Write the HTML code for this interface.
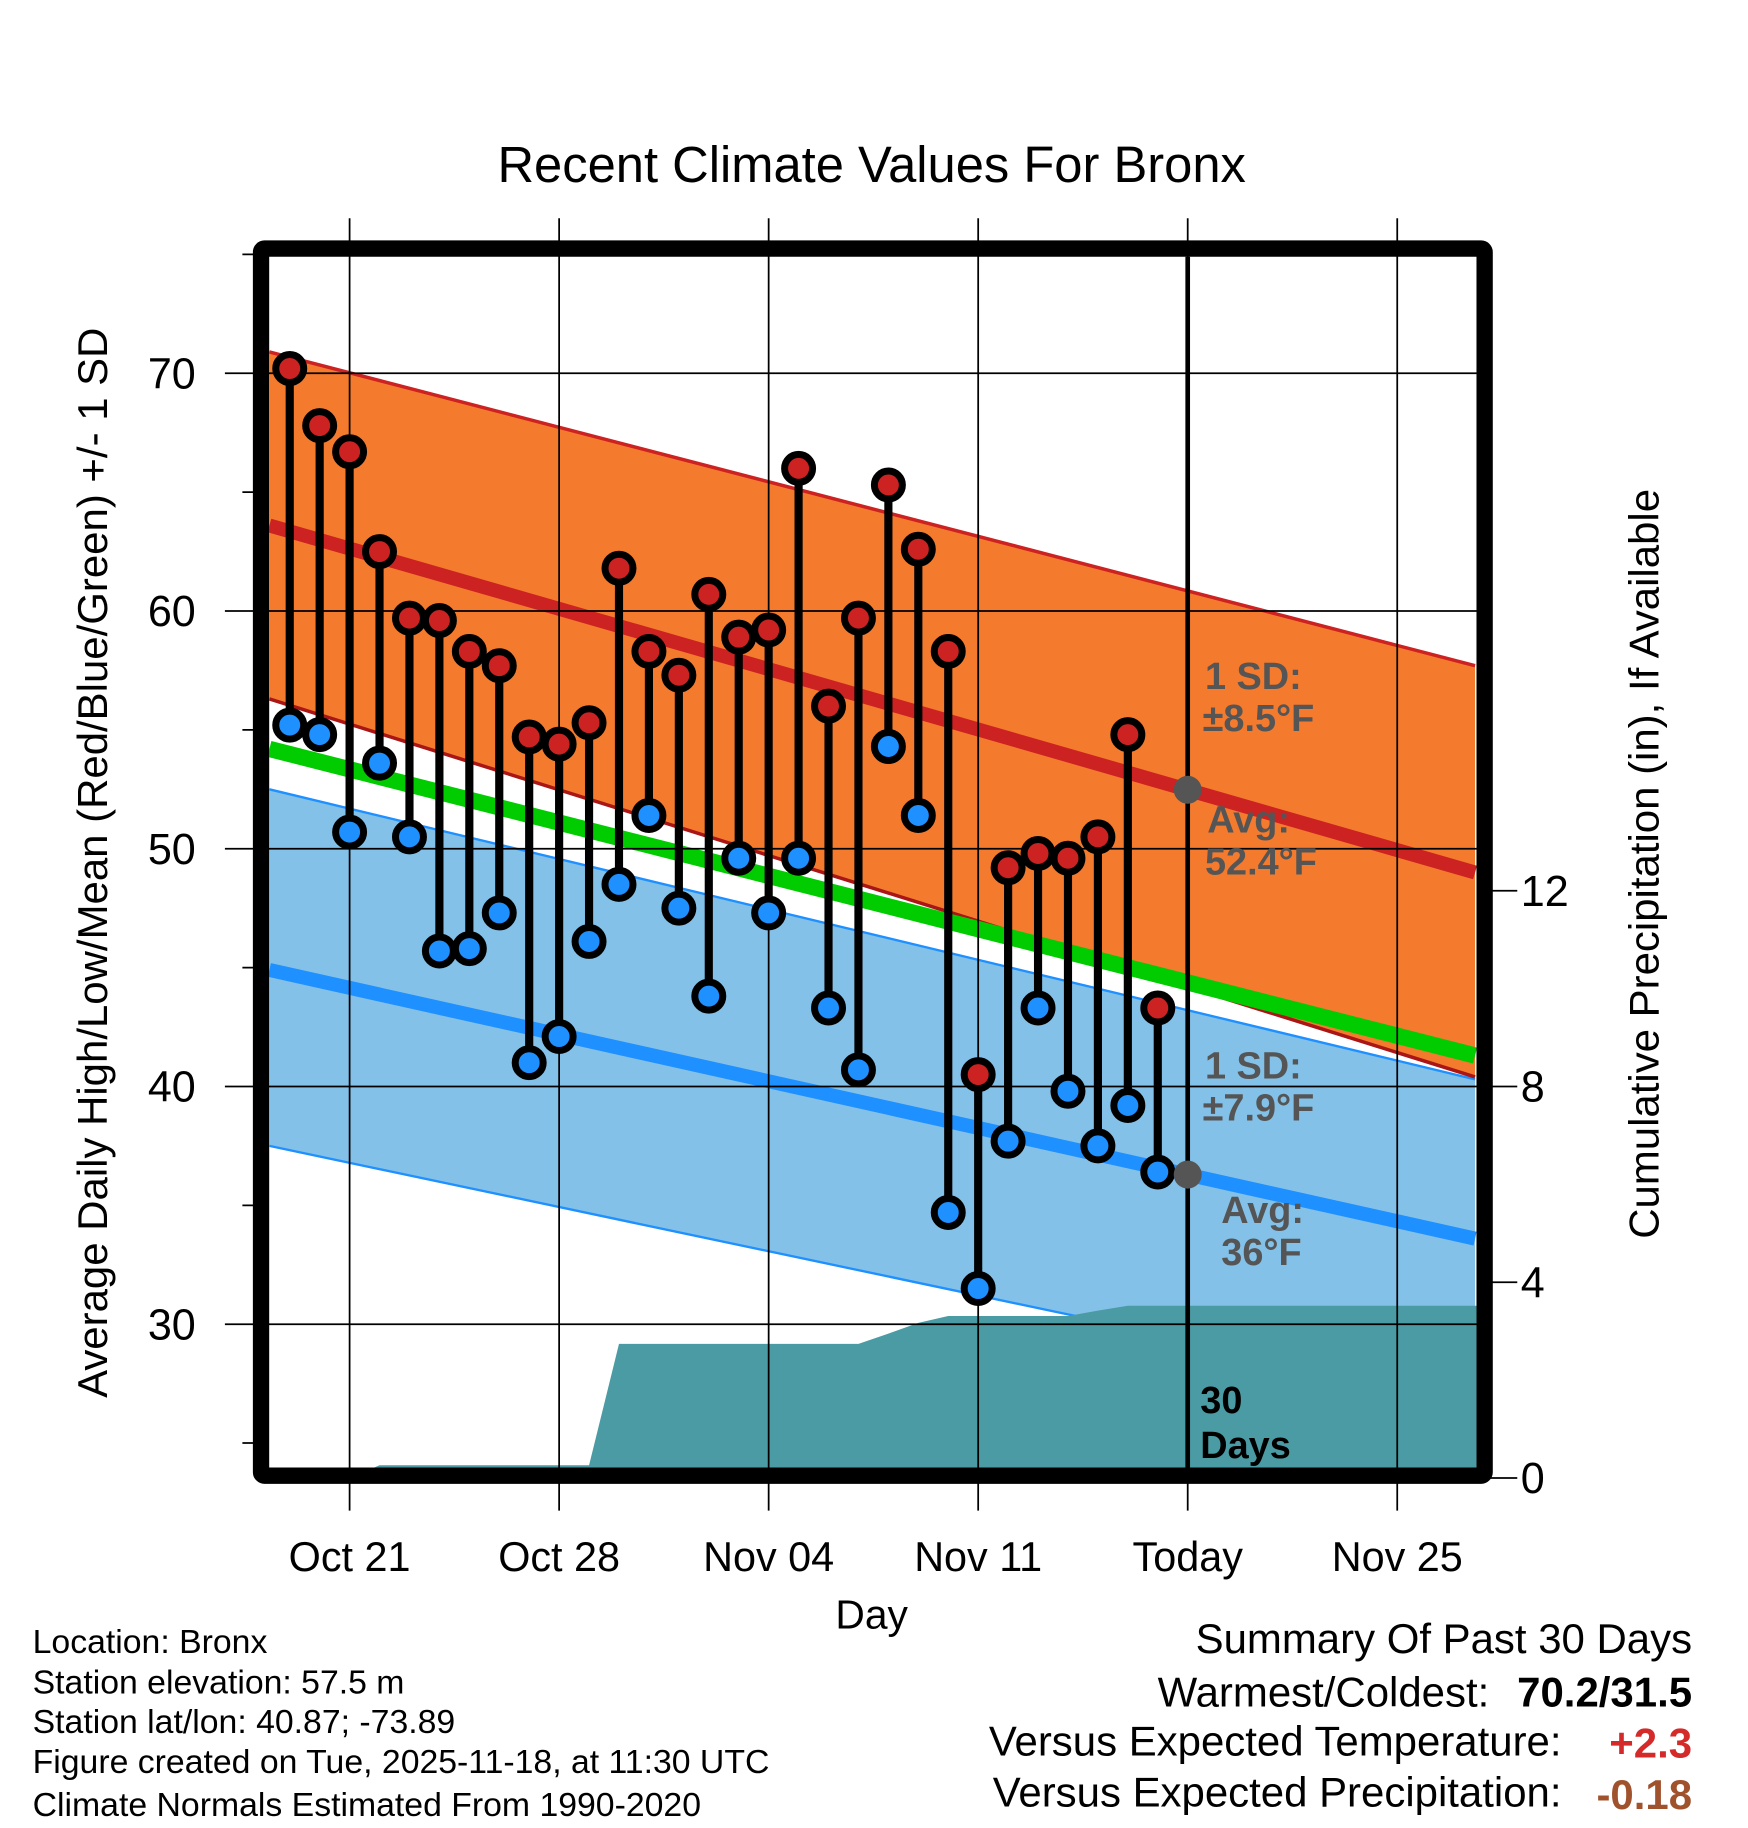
<!DOCTYPE html>
<html><head><meta charset="utf-8"><style>html,body{margin:0;padding:0;background:#fff}svg{display:block}text{font-family:"Liberation Sans",sans-serif}</style></head>
<body>
<svg id="chart" width="1748" height="1828" viewBox="0 0 1500 1568" xmlns="http://www.w3.org/2000/svg">
<g id="plot"></g>
<text x="748" y="156" font-size="43.5" text-anchor="middle">Recent Climate Values For Bronx</text>
<text transform="translate(92,740) rotate(-90)" font-size="36" text-anchor="middle">Average Daily High/Low/Mean (Red/Blue/Green) +/- 1 SD</text>
<text transform="translate(1423,741) rotate(-90)" font-size="36" text-anchor="middle">Cumulative Precipitation (in), If Available</text>
<text x="748" y="1397" font-size="35" text-anchor="middle">Day</text>
<g font-size="29">
<text x="28" y="1418">Location: Bronx</text>
<text x="28" y="1453">Station elevation: 57.5 m</text>
<text x="28" y="1487">Station lat/lon: 40.87; -73.89</text>
<text x="28" y="1521">Figure created on Tue, 2025-11-18, at 11:30 UTC</text>
<text x="28" y="1558">Climate Normals Estimated From 1990-2020</text>
</g>
<g font-size="36" text-anchor="end">
<text x="1452" y="1418">Summary Of Past 30 Days</text>
<text x="1278" y="1464">Warmest/Coldest:</text>
<text x="1452" y="1464" font-weight="bold">70.2/31.5</text>
<text x="1340" y="1506">Versus Expected Temperature:</text>
<text x="1452" y="1508" font-weight="bold" fill="#d42a2a">+2.3</text>
<text x="1340" y="1550">Versus Expected Precipitation:</text>
<text x="1452" y="1552" font-weight="bold" fill="#a0522d">-0.18</text>
</g>
</svg>
<script>
// days relative to Oct 21 (=0); today = 28
const days = [-2,-1,0,1,2,3,4,5,6,7,8,9,10,11,12,13,14,15,16,17,18,19,20,21,22,23,24,25,26,27];
const highs = [70.2,67.8,66.7,62.5,59.7,59.6,58.3,57.7,54.7,54.4,55.3,61.8,58.3,57.3,60.7,58.9,59.2,66.0,56.0,59.7,65.3,62.6,58.3,40.5,49.2,49.8,49.6,50.5,54.8,43.3];
const lows = [55.2,54.8,50.7,53.6,50.5,45.7,45.8,47.3,41.0,42.1,46.1,48.5,51.4,47.5,43.8,49.6,47.3,49.6,43.3,40.7,54.3,51.4,34.7,31.5,37.7,43.3,39.8,37.5,39.2,36.4];
const precip = [0,0,0,0.26,0.26,0.26,0.26,0.26,0.26,0.26,0.26,2.74,2.74,2.74,2.74,2.74,2.74,2.74,2.74,2.74,2.95,3.17,3.31,3.31,3.31,3.31,3.31,3.42,3.52,3.52];
const normDays = [-2.68, 37.6];
const normHighAvg = [63.6, 49.0];
const normHighUp = [70.9, 57.7];
const normHighLo = [56.3, 40.4];
const normMean = [54.2, 41.3];
const normLowAvg = [44.9, 33.6];
const normLowUp = [52.5, 40.3];
const normLowLo = [37.5, 26.8];
const xTickDays = [0,7,14,21,28,35];
const xTickLabels = ["Oct 21","Oct 28","Nov 04","Nov 11","Today","Nov 25"];
const yTicks = [30,40,50,60,70];
const yMinor = [25,35,45,55,65,75];
const pTicks = [0,4,8,12];
const todayDay = 28;

const L=231,R=1267,T=220,B=1259;
const X=d=>300+d*(1199-300)/35;
const Y=v=>320+(70-v)*20.4;
const P=v=>1268-v*42;
const NS='http://www.w3.org/2000/svg';
const g=document.getElementById('plot');
function mk(tag,attrs,parent){const e=document.createElementNS(NS,tag);for(const k in attrs)e.setAttribute(k,attrs[k]);(parent||g).appendChild(e);return e;}
const clip=mk('clipPath',{id:'cp'});mk('rect',{x:L,y:T,width:R-L,height:B-T},clip);
const inner=mk('g',{'clip-path':'url(#cp)'});
(function(){
 const G=inner;
 function m(tag,a){return mk(tag,a,G);}
 let pts=normDays.map((d,i)=>X(d)+','+Y(normLowUp[i])).concat([X(normDays[1])+','+Y(normLowLo[1]),X(normDays[0])+','+Y(normLowLo[0])]);
 let e=m('polygon',{points:pts.join(' '),fill:'#83c1e8'});
 
 
 e=m('polyline',{points:normDays.map((d,i)=>X(d)+','+Y(normLowUp[i])).join(' '),fill:'none',stroke:'#1e90ff','stroke-width':2});
 e=m('polyline',{points:normDays.map((d,i)=>X(d)+','+Y(normLowLo[i])).join(' '),fill:'none',stroke:'#1e90ff','stroke-width':2});
 pts=normDays.map((d,i)=>X(d)+','+Y(normHighUp[i])).concat([X(normDays[1])+','+Y(normHighLo[1]),X(normDays[0])+','+Y(normHighLo[0])]);
 e=m('polygon',{points:pts.join(' '),fill:'#f47a2e'});
 
 
 e=m('polyline',{points:normDays.map((d,i)=>X(d)+','+Y(normHighUp[i])).join(' '),fill:'none',stroke:'#cc2222','stroke-width':3});
 e=m('polyline',{points:normDays.map((d,i)=>X(d)+','+Y(normHighLo[i])).join(' '),fill:'none',stroke:'#aa1515','stroke-width':3});
 e=m('polyline',{points:normDays.map((d,i)=>X(d)+','+Y(normMean[i])).join(' '),fill:'none',stroke:'#00cc00','stroke-width':14});
 
 
 e=m('polyline',{points:normDays.map((d,i)=>X(d)+','+Y(normHighAvg[i])).join(' '),fill:'none',stroke:'#cc2222','stroke-width':12});
 
 
 e=m('polyline',{points:normDays.map((d,i)=>X(d)+','+Y(normLowAvg[i])).join(' '),fill:'none',stroke:'#1e90ff','stroke-width':12});
 
 
 let pp=[X(days[0])+','+B];
 days.forEach((d,i)=>pp.push(X(d)+','+P(precip[i])));
 pp.push(R+','+P(precip[precip.length-1]));pp.push(R+','+B);
 e=m('polygon',{points:pp.join(' '),fill:'#4a9ba3'});
 
 
})();
xTickDays.forEach(d=>{
 const e=mk('line',{x1:X(d),x2:X(d),y1:187,y2:1296,stroke:'#000','stroke-width':1.5});
 
 
});
xTickDays.forEach((d,i)=>{
 const t=mk('text',{x:X(d),y:1348,'font-size':35.5,'text-anchor':'middle'});t.textContent=xTickLabels[i];
 
 
});
yTicks.forEach(v=>{
 const e=mk('line',{x1:193,x2:R,y1:Y(v),y2:Y(v),stroke:'#000','stroke-width':1.5});
 
 
 const t=mk('text',{x:168,y:Y(v)+13,'font-size':37,'text-anchor':'end'});t.textContent=v;
 
 
});
yMinor.forEach(v=>{
 const e=mk('line',{x1:208,x2:224,y1:Y(v),y2:Y(v),stroke:'#000','stroke-width':1.5});
 
 
});
pTicks.forEach(v=>{
 const e=mk('line',{x1:1274,x2:1302,y1:P(v),y2:P(v),stroke:'#000','stroke-width':1.5});
 
 
 const t=mk('text',{x:1305,y:P(v)+13,'font-size':37});t.textContent=v;
 
 
});
let tl=mk('line',{x1:X(todayDay),x2:X(todayDay),y1:T,y2:B,stroke:'#000','stroke-width':4});


days.forEach((d,i)=>{
 const s=mk('line',{x1:X(d),x2:X(d),y1:Y(highs[i]),y2:Y(lows[i]),stroke:'#000','stroke-width':7});
 
 
});
days.forEach((d,i)=>{
 const h=mk('circle',{cx:X(d),cy:Y(highs[i]),r:12,fill:'#cc2222',stroke:'#000','stroke-width':6});
 
 
 const l=mk('circle',{cx:X(d),cy:Y(lows[i]),r:12,fill:'#1e90ff',stroke:'#000','stroke-width':6});
 
 
});
function lerp(arr,d){return arr[0]+(arr[1]-arr[0])*(d-normDays[0])/(normDays[1]-normDays[0]);}
let td=mk('circle',{cx:X(todayDay),cy:Y(lerp(normHighAvg,todayDay)),r:12,fill:'#555'});


td=mk('circle',{cx:X(todayDay),cy:Y(lerp(normLowAvg,todayDay)),r:12,fill:'#555'});


const ann=[["1 SD:",1034,591,'#555'],["±8.5°F",1032,627,'#555'],["Avg:",1036,714,'#555'],["52.4°F",1034,750,'#555'],["1 SD:",1034,925,'#555'],["±7.9°F",1032,961,'#555'],["Avg:",1048,1049,'#555'],["36°F",1048,1085,'#555'],["30",1030,1212,'#000'],["Days",1030,1251,'#000']];
ann.forEach(a=>{
 const t=mk('text',{x:a[1],y:a[2],'font-size':32.5,'font-weight':'bold',fill:a[3]});t.textContent=a[0];
 
 
});
let fr=mk('rect',{x:224,y:213,width:1050,height:1053,fill:'none',stroke:'#000','stroke-width':14,rx:3});


</script>
</body></html>
